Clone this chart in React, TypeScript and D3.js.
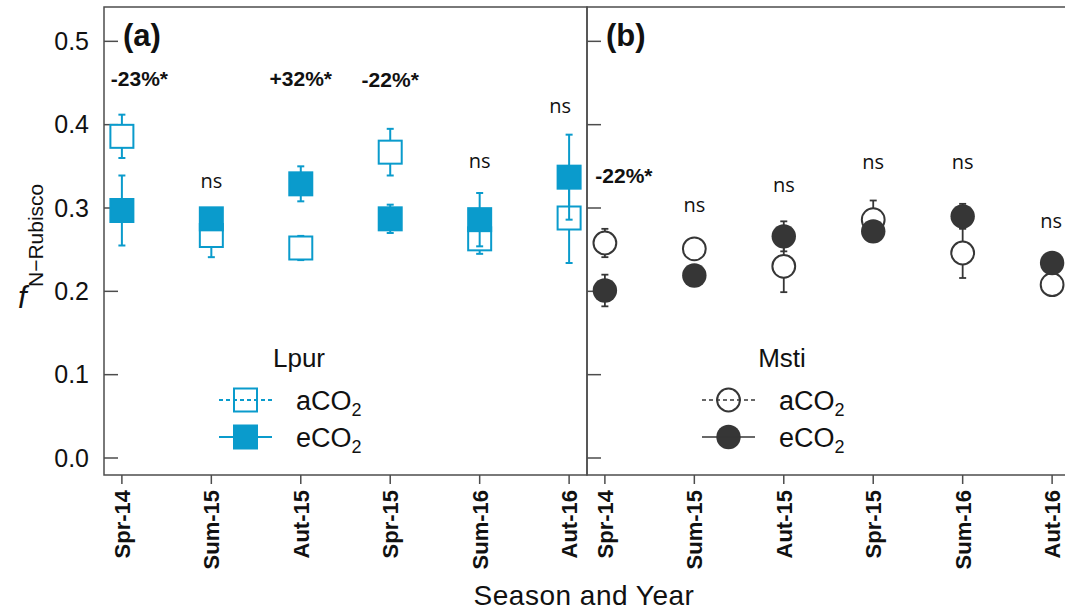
import React from "react";
import * as d3 from "d3";

// Sampling seasons (x categories)
const seasons = ["Spr-14", "Sum-15", "Aut-15", "Spr-15", "Sum-16", "Aut-16"];

// Lpur: fraction of leaf N in Rubisco (mean and SE)
const lpurAmbient = [0.386, 0.267, 0.252, 0.367, 0.263, 0.288];
const lpurAmbientSE = [0.026, 0.026, 0.0145, 0.028, 0.018, 0.054];
const lpurElevated = [0.297, 0.287, 0.329, 0.287, 0.286, 0.337];
const lpurElevatedSE = [0.042, 0.01, 0.021, 0.017, 0.032, 0.051];

// Msti: fraction of leaf N in Rubisco (mean and SE)
const mstiAmbient = [0.258, 0.251, 0.23, 0.286, 0.246, 0.208];
const mstiAmbientSE = [0.017, 0.008, 0.031, 0.023, 0.03, 0.01];
const mstiElevated = [0.201, 0.219, 0.266, 0.272, 0.29, 0.234];
const mstiElevatedSE = [0.019, 0.008, 0.018, 0.01, 0.015, 0.008];

// Treatment effect annotations and the value level where each sits
const lpurEffects = ["-23%*", "ns", "+32%*", "-22%*", "ns", "ns"];
const lpurEffectAt = [0.4464, 0.324, 0.4464, 0.4456, 0.348, 0.4144];
const mstiEffects = ["-22%*", "ns", "ns", "ns", "ns", "ns"];
const mstiEffectAt = [0.3304, 0.2956, 0.3196, 0.3464, 0.3464, 0.2756];

const yTicks = [0.0, 0.1, 0.2, 0.3, 0.4, 0.5];

const W = 1065;
const H = 611;
const TOP = 7;
const BOTTOM = 475;
const PANEL_W = 483;
const FONT = "'Liberation Sans', Arial, Helvetica, sans-serif";
const BLUE = "#0a9bcc";
const DARK = "#363636";
const FRAME = "#4d4d4d";

const y = d3.scaleLinear().domain([-0.0204, 0.5412]).range([BOTTOM, TOP]);

type PanelProps = {
  left: number;
  tag: string;
  title: string;
  shape: "square" | "circle";
  color: string;
  amb: number[];
  ambSE: number[];
  elev: number[];
  elevSE: number[];
  effects: string[];
  effectAt: number[];
  effectShift: number[];
  showYLabels: boolean;
};

function Marker({ shape, cx, cy, filled, color }: { shape: string; cx: number; cy: number; filled: boolean; color: string }) {
  if (shape === "square") {
    const s = 23;
    return (
      <rect x={cx - s / 2} y={cy - s / 2} width={s} height={s}
        fill={filled ? color : "#fff"} stroke={color} strokeWidth={2} />
    );
  }
  return filled ? (
    <circle cx={cx} cy={cy} r={12.2} fill={color} />
  ) : (
    <circle cx={cx} cy={cy} r={11.4} fill="#fff" stroke={color} strokeWidth={2} />
  );
}

function ErrorBar({ cx, v, se, color, width }: { cx: number; v: number; se: number; color: string; width: number }) {
  const y0 = y(v - se);
  const y1 = y(v + se);
  const cap = 3.5;
  return (
    <g stroke={color} strokeWidth={width} fill="none">
      <line x1={cx} x2={cx} y1={y0} y2={y1} />
      <line x1={cx - cap} x2={cx + cap} y1={y0} y2={y0} />
      <line x1={cx - cap} x2={cx + cap} y1={y1} y2={y1} />
    </g>
  );
}

function Panel(p: PanelProps) {
  const x = d3.scalePoint<string>().domain(seasons).range([p.left, p.left + PANEL_W]).padding(0.2);
  const ebw = p.shape === "square" ? 2 : 1.8;
  const legX = p.left + 141.5;
  const rows = [
    { label: "a", filled: false, dash: "4,3", cy: 400 },
    { label: "e", filled: true, dash: undefined, cy: 437 },
  ];
  return (
    <g>
      {/* frame */}
      <rect x={p.left} y={TOP} width={PANEL_W} height={BOTTOM - TOP} fill="none" stroke={FRAME} strokeWidth={1.5} />
      {/* y ticks (inside) */}
      {yTicks.map((t) => (
        <line key={t} x1={p.left} x2={p.left + 14} y1={y(t)} y2={y(t)} stroke={FRAME} strokeWidth={1.5} />
      ))}
      {p.showYLabels &&
        yTicks.map((t) => (
          <text key={"l" + t} x={89} y={y(t)} dy="0.35em" textAnchor="end" fontSize={25} fill="#111" fontFamily={FONT}>
            {d3.format(".1f")(t)}
          </text>
        ))}
      {/* x ticks (outside) and rotated labels */}
      {seasons.map((s) => (
        <g key={s}>
          <line x1={x(s)} x2={x(s)} y1={BOTTOM} y2={BOTTOM + 9} stroke={FRAME} strokeWidth={1.5} />
          <text transform={`translate(${(x(s) as number) + 8},490) rotate(-90)`} textAnchor="end"
            fontSize={22} fontWeight="bold" fill="#111" fontFamily={FONT}>
            {s}
          </text>
        </g>
      ))}
      {/* ambient: error bars then open markers */}
      {seasons.map((s, i) => (
        <ErrorBar key={"ae" + s} cx={x(s) as number} v={p.amb[i]} se={p.ambSE[i]} color={p.color} width={ebw} />
      ))}
      {seasons.map((s, i) => (
        <Marker key={"am" + s} shape={p.shape} cx={x(s) as number} cy={y(p.amb[i])} filled={false} color={p.color} />
      ))}
      {/* elevated: error bars then filled markers */}
      {seasons.map((s, i) => (
        <ErrorBar key={"ee" + s} cx={x(s) as number} v={p.elev[i]} se={p.elevSE[i]} color={p.color} width={ebw} />
      ))}
      {seasons.map((s, i) => (
        <Marker key={"em" + s} shape={p.shape} cx={x(s) as number} cy={y(p.elev[i])} filled={true} color={p.color} />
      ))}
      {/* effect annotations */}
      {p.effects.map((e, i) => {
        const bold = e !== "ns";
        return (
          <text key={"fx" + i} x={(x(seasons[i]) as number) + p.effectShift[i]} y={y(p.effectAt[i])}
            textAnchor="middle" fontSize={bold ? 21 : 20} fontWeight={bold ? "bold" : "normal"}
            fill="#111" fontFamily={bold ? FONT : "'Open Sans', 'Noto Sans', sans-serif"}>
            {e}
          </text>
        );
      })}
      {/* panel tag */}
      <text x={p.left + 19} y={46} fontSize={31} fontWeight="bold" fill="#111" fontFamily={FONT}>{p.tag}</text>
      {/* legend */}
      <text x={p.left + 195} y={367} textAnchor="middle" fontSize={26} fill="#111" fontFamily={FONT}>{p.title}</text>
      {rows.map((r) => (
        <g key={r.label}>
          <Marker shape={p.shape} cx={legX} cy={r.cy} filled={r.filled} color={p.color} />
          <line x1={p.left + 115} x2={p.left + 168} y1={r.cy} y2={r.cy} stroke={p.color}
            strokeWidth={p.shape === "square" ? 2 : 1.6} strokeDasharray={r.dash} />
          <text x={p.left + 192} y={r.cy + 10} fontSize={27} fill="#111" fontFamily={FONT}>
            {r.label}CO<tspan fontSize={18} dy={6}>2</tspan>
          </text>
        </g>
      ))}
    </g>
  );
}

export default function App() {
  return (
    <svg width={W} height={H} style={{ position: "absolute", left: 0, top: 0, background: "#fff" }}>
      <rect width={W} height={H} fill="#fff" />
      <Panel left={104} tag="(a)" title="Lpur" shape="square" color={BLUE}
        amb={lpurAmbient} ambSE={lpurAmbientSE} elev={lpurElevated} elevSE={lpurElevatedSE}
        effects={lpurEffects} effectAt={lpurEffectAt} effectShift={[17.5, 0, 0, 0, 0, -9]} showYLabels={true} />
      <Panel left={587} tag="(b)" title="Msti" shape="circle" color={DARK}
        amb={mstiAmbient} ambSE={mstiAmbientSE} elev={mstiElevated} elevSE={mstiElevatedSE}
        effects={mstiEffects} effectAt={mstiEffectAt} effectShift={[19, 0, 0, 0, 0, -1]} showYLabels={false} />
      {/* y-axis title */}
      <text x={18} y={308} fontSize={31} fontStyle="italic" fill="#111" fontFamily={FONT}>f</text>
      <text transform="translate(43,287) rotate(-90)" fontSize={21} fill="#111" fontFamily={FONT}>N−Rubisco</text>
      {/* x-axis title */}
      <text x={584} y={605} textAnchor="middle" fontSize={28} letterSpacing={0.5}
        fill="#111" fontFamily={FONT}>Season and Year</text>
    </svg>
  );
}
